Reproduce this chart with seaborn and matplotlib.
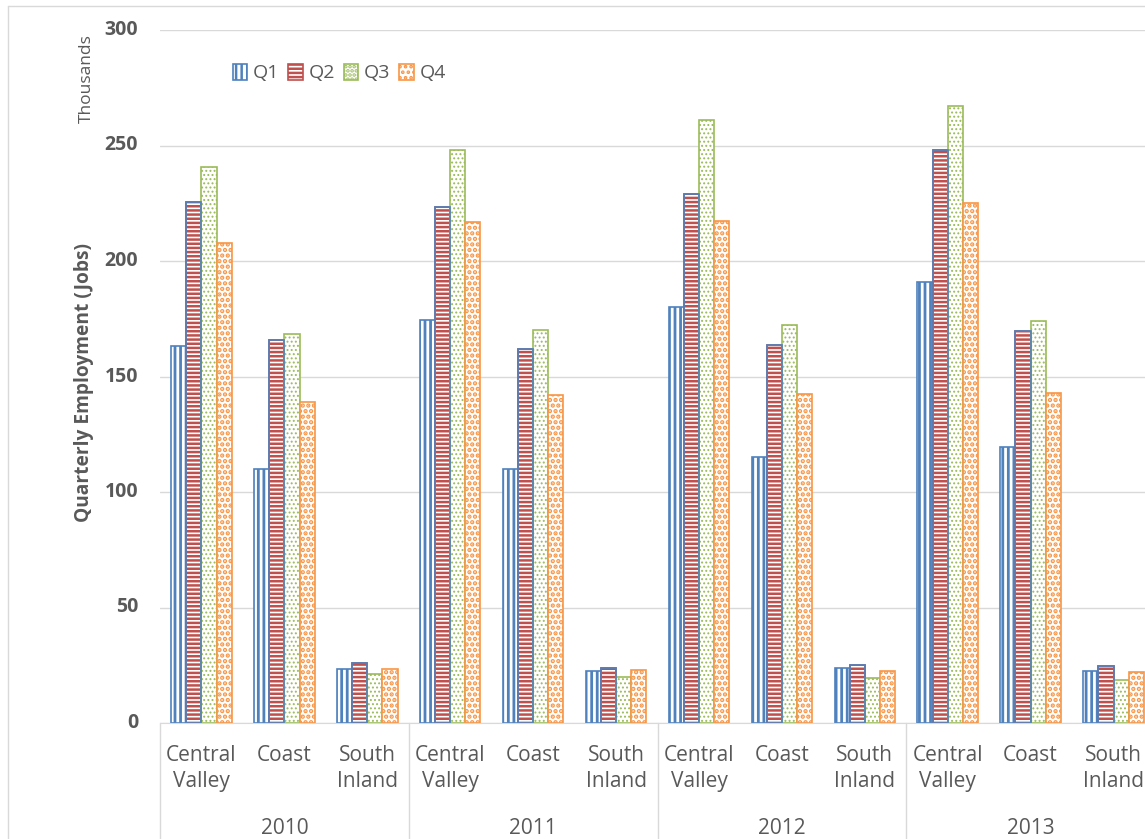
import pandas as pd
import seaborn as sns
import matplotlib.pyplot as plt
import matplotlib.transforms as mtransforms
from matplotlib.patches import Rectangle
from matplotlib.lines import Line2D

# ======================= 1. Data (thousands of jobs) ===================
years = ['2010', '2011', '2012', '2013']
regions = ['Central Valley', 'Coast', 'South Inland']
region_labels = ['Central\nValley', 'Coast', 'South\nInland']
quarters = ['Q1', 'Q2', 'Q3', 'Q4']

# ordered: year by year, regions inside each year
q1 = [163.0, 110.0, 23.2, 174.5, 110.0, 22.5, 180.0, 115.0, 24.0, 191.0, 119.5, 22.5]
q2 = [225.5, 166.0, 25.8, 223.5, 162.0, 23.6, 229.0, 163.5, 25.0, 248.0, 169.5, 24.6]
q3 = [240.5, 168.5, 21.0, 248.0, 170.0, 20.0, 261.0, 172.5, 19.3, 267.0, 174.0, 18.6]
q4 = [208.0, 139.0, 23.2, 217.0, 142.0, 23.0, 217.5, 142.5, 22.5, 225.0, 143.0, 22.0]
y_ticks = [0, 50, 100, 150, 200, 250, 300]

colors = ['#4F81BD', '#C0504D', '#9BBB59', '#F79646']
hatches = ['|||', '----', '....', '...']
hatch_lw = [2.0, 1.8, 0.9, 2.2]

keys = [y + '|' + r for y in years for r in regions]
rows = []
for q, vals in zip(quarters, [q1, q2, q3, q4]):
    for k, v in zip(keys, vals):
        rows.append({'key': k, 'quarter': q, 'jobs': v})
df = pd.DataFrame(rows)

# ======================= 2. Figure ===================================
sns.set_style('white')
plt.rcParams['font.family'] = ['Open Sans', 'DejaVu Sans']
plt.rcParams['hatch.linewidth'] = 1.8

fig = plt.figure(figsize=(11.45, 8.39), dpi=100)
W, H = 1145, 839
ax = fig.add_axes([160 / W, 1 - 723 / H, (1155 - 160) / W, (723 - 30) / H])

sns.barplot(data=df, x='key', y='jobs', hue='quarter', order=keys,
            hue_order=quarters, palette=colors, width=0.73,
            errorbar=None, legend=False, ax=ax)

for i, cont in enumerate(ax.containers):
    cont.set_label(quarters[i])
    for p in cont.patches:
        p.set_facecolor('white')
        p.set_edgecolor(colors[i])
        p.set_hatch(hatches[i])
        p.set_linewidth(1.2)
        if hasattr(p, 'set_hatch_linewidth'):
            p.set_hatch_linewidth(hatch_lw[i])
        if quarters[i] == 'Q2':
            # Q2 keeps the blue outline over its red stripes
            ax.add_patch(Rectangle(p.get_xy(), p.get_width(), p.get_height(),
                                   fill=False, edgecolor=colors[0], linewidth=1.2))

# ======================= 3. Axes styling =============================
txt = '#595959'
ax.set_xlim(-0.5, len(keys) - 0.5)
ax.set_ylim(0, 300)
ax.set_yticks(y_ticks)
ax.set_yticklabels([])
ax.yaxis.grid(True, color='#D9D9D9', linewidth=1)
ax.set_axisbelow(True)
for s in ['left', 'right', 'top']:
    ax.spines[s].set_visible(False)
ax.spines['bottom'].set_color('#D9D9D9')
ax.tick_params(axis='y', length=0)

# y tick labels, right edge at x=138 px
ytrans = mtransforms.blended_transform_factory(fig.transFigure, ax.transData)
for v in y_ticks:
    fig.text(138 / W, v, str(v), transform=ytrans, ha='right', va='center',
             fontsize=14, fontweight='bold', color=txt)

ax.set_xticks(range(len(keys)))
ax.set_xticklabels(region_labels * len(years), fontsize=15, color=txt, linespacing=1.3)
ax.tick_params(axis='x', length=0, pad=16)
ax.set_xlabel('')
ax.set_ylabel('')

# year level of the category axis
n = len(regions)
for j, yr in enumerate(years):
    ax.text(j * n + (n - 1) / 2, -0.152, yr, transform=ax.get_xaxis_transform(),
            ha='center', va='center', fontsize=15, color=txt)
for j in range(len(years) + 1):
    ax.plot([j * n - 0.5] * 2, [0, -0.2], transform=ax.get_xaxis_transform(),
            color='#D9D9D9', linewidth=1, clip_on=False)

fig.text(84 / W, 1 - 382 / H, 'Quarterly Employment (Jobs)', rotation=90,
         ha='center', va='center', fontsize=13.8, fontweight='bold', color=txt)
fig.text(87 / W, 1 - 79 / H, 'Thousands', rotation=90,
         ha='center', va='center', fontsize=12.5, color=txt)

leg = ax.legend(handles=ax.containers, labels=quarters, loc='center left',
                bbox_to_anchor=(215 / W, 1 - 73 / H), bbox_transform=fig.transFigure,
                ncol=4, frameon=False, fontsize=14, handlelength=0.75, handleheight=0.9,
                handletextpad=0.3, columnspacing=0.45, labelcolor=txt)
# legend key for Q2 also carries the blue outline
leg.legend_handles[1].set_edgecolor(colors[1])

# chart area border
fig.add_artist(Line2D([7.5 / W, 7.5 / W], [0, 1 - 5.5 / H], color='#D9D9D9', linewidth=1))
fig.add_artist(Line2D([7.5 / W, 1], [1 - 5.5 / H, 1 - 5.5 / H], color='#D9D9D9', linewidth=1))

fig.savefig('out.png', dpi=100)
